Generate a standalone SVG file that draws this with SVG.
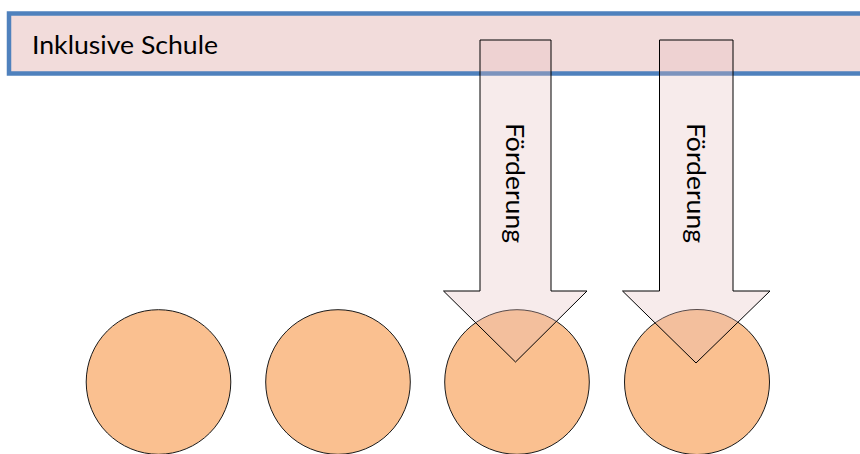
<svg xmlns="http://www.w3.org/2000/svg" width="860" height="454" viewBox="0 0 860 454">
<style>
.circ{fill:#fac090;stroke:#1a1a1a;stroke-width:1}
.arrow{fill:#e6bebe;fill-opacity:0.3;stroke:#000;stroke-width:1;stroke-linejoin:miter}
.lbl{font-family:Lato,"Open Sans","Liberation Sans",sans-serif;font-size:25px;fill:#000}
</style>
<rect width="860" height="454" fill="#fff"/>
<g id="school">
<rect x="9" y="13.5" width="860" height="60" fill="#f2dcdb" stroke="#4f81bd" stroke-width="4.5"/>
<text class="lbl" x="32" y="54" textLength="186" lengthAdjust="spacingAndGlyphs">Inklusive Schule</text>
</g>
<g id="pupil1"><circle class="circ" cx="158.5" cy="382" r="72.3"/></g>
<g id="pupil2"><circle class="circ" cx="338" cy="382" r="72.3"/></g>
<g id="pupil3"><circle class="circ" cx="517" cy="382" r="72.3"/></g>
<g id="pupil4"><circle class="circ" cx="697" cy="382" r="72.5"/></g>
<g id="connectors">
<g id="foerderung1">
<polygon class="arrow" points="480,40 551,40 551,291 587,291 515.5,362 443.5,291 480,291"/>
<text class="lbl" transform="translate(515.5,183) rotate(90)" x="0" y="9.5" text-anchor="middle" textLength="120" lengthAdjust="spacingAndGlyphs">Förderung</text>
</g>
<g id="foerderung2">
<polygon class="arrow" points="659.5,40 733,40 733,291 770,291 696,363 622.5,291 659.5,291"/>
<text class="lbl" transform="translate(696,183) rotate(90)" x="0" y="9.5" text-anchor="middle" textLength="120" lengthAdjust="spacingAndGlyphs">Förderung</text>
</g>
</g>
</svg>
